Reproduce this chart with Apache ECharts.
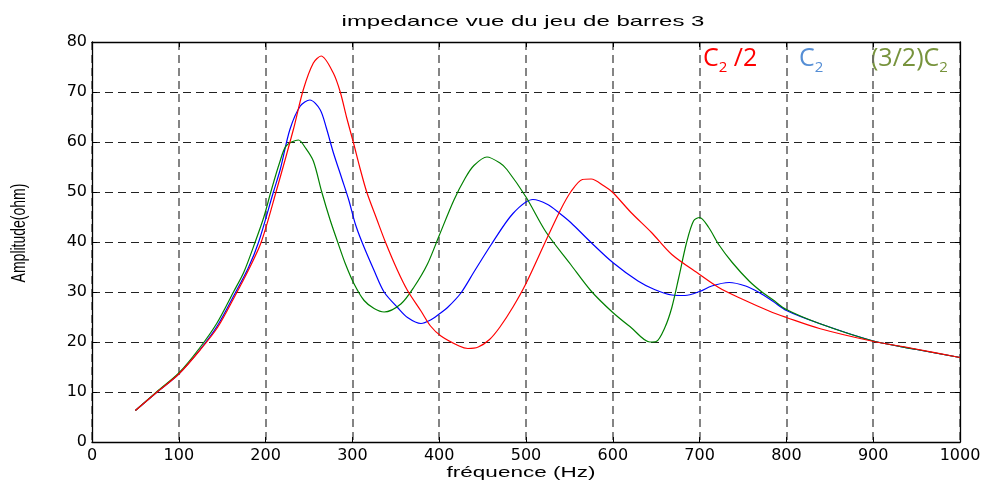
<!DOCTYPE html>
<html><head><meta charset="utf-8">
<script src="https://cdn.jsdelivr.net/npm/echarts@6/dist/echarts.min.js"></script>
<style>html,body{margin:0;padding:0;background:#fff}#c{width:996px;height:483px}</style>
</head><body><div id="c"></div>
<script>
const titleText = 'impedance vue du jeu de barres 3';
const xName = 'fréquence (Hz)';
const yName = 'Amplitude(ohm)';
const xTicks = [0,100,200,300,400,500,600,700,800,900,1000];
const yTicks = [0,10,20,30,40,50,60,70,80];

const redFreq = [50,75,100,125,145,165,180,195,212,232,243.5,255,264,278,286,293.5,301,309,316.5,328,338,352,363.5,379,390,402,423,433,445,458,470,485,500,523,540,551.5,565,575,590,600,621,644.6,668,700,722,745,784,800,838,898,946,1000];
const redAmp  = [6.3,10,13.6,18.5,23,29.3,34.3,40,50,62.5,70.5,75.8,77.2,73.8,70,64.8,60,54.6,50,44.6,40,34.3,30.3,26.2,23.2,21.2,19.2,18.7,19,20.5,23,27,31.7,40.3,46.5,50,52.5,52.6,51.2,49.9,45.9,41.9,37.5,33.5,30.9,28.9,25.9,24.9,22.7,20.2,18.7,16.9];

const blueFreq = [50,75,100,125,145,165,180,192,209,217,228,240,251,262.7,270,278,288,296,303,311,325,336.5,352,363.5,379,390,400,409.6,425,440,460,485,508,525,539,551.5,575,600,629,648,668,683,700,714,734,753,768.6,784,800,838,898,950,1000];
const blueAmp  = [6.3,10,13.6,18.6,23.4,29.8,34.8,40,50,54.6,62.5,67.2,68.4,66.5,62.8,57.9,52.6,48.3,43.8,40,34.3,30,26.9,24.9,23.7,24.4,25.6,26.9,29.8,34,39.5,45.7,48.5,47.5,45.7,43.9,39.9,35.9,32.2,30.5,29.4,29.3,30.1,31.2,31.9,31.2,29.9,28.2,26.3,23.7,20.3,18.5,16.9];

const greenFreq = [50,75,100,124,144,163,175,188,198,206,216,224,237.8,246,255,264.7,274,283,292,302,313.5,325,336.5,355.8,371,386.5,400,417,430,440,455,470,478,500,523,551.5,575,600,621,642.6,650,660,668,676,685,693,700,710.5,722,737.6,757,772.5,784,800,838,898,950,1000];
const greenAmp  = [6.3,10.1,13.8,18.8,23.8,30,34,40,45,50,55.8,59.3,60.4,58.8,56.2,50,44.6,40,35.6,31.6,28.3,26.7,26,27.6,31,35.6,41.3,48.4,52.8,55.3,57,55.8,54.5,49,42,35.5,30.2,25.9,22.9,20,20.1,22.9,26.9,32.9,39.9,44.2,44.9,42.9,39.5,35.9,32.2,29.9,28.5,26.5,23.7,20.3,18.5,16.9];

const pairs = (f, a) => f.map((v, i) => [v, a[i]]);

const chart = echarts.init(document.getElementById('c'), null, {renderer: 'canvas'});
const tickFont = {fontFamily: 'DejaVu Sans', fontSize: 16, color: '#000'};
const grid = {left: 92, right: 36, top: 42, bottom: 41};
const hLine = {show: true, lineStyle: {color: '#222', type: [8, 5], width: 1.2}};
const vLine = {show: true, lineStyle: {color: '#666', type: [8, 5], width: 1.6}};

chart.setOption({
  animation: false,
  backgroundColor: '#fff',
  grid: grid,
  xAxis: [
    {type: 'value', min: 0, max: 1000, interval: 100, position: 'bottom',
     axisLine: {show: true, onZero: false, lineStyle: {color: '#000', width: 1.3}},
     axisTick: {show: true, inside: true, length: 5, lineStyle: {color: '#000'}},
     axisLabel: Object.assign({margin: 6, formatter: v => xTicks.includes(v) ? String(v) : ''}, tickFont),
     splitLine: vLine},
    {type: 'value', min: 0, max: 1000, interval: 100, position: 'top',
     axisLine: {show: true, onZero: false, lineStyle: {color: '#000', width: 1.3}},
     axisTick: {show: true, inside: true, length: 5, lineStyle: {color: '#000'}},
     axisLabel: {show: false}, splitLine: {show: false}}
  ],
  yAxis: [
    {type: 'value', min: 0, max: 80, interval: 10, position: 'left',
     axisLine: {show: true, onZero: false, lineStyle: {color: '#000', width: 1.3}},
     axisTick: {show: true, inside: true, length: 5, lineStyle: {color: '#000'}},
     axisLabel: Object.assign({margin: 5, formatter: v => yTicks.includes(v) ? String(v) : ''}, tickFont),
     splitLine: hLine},
    {type: 'value', min: 0, max: 80, interval: 10, position: 'right',
     axisLine: {show: true, onZero: false, lineStyle: {color: '#000', width: 1.3}},
     axisTick: {show: true, inside: true, length: 5, lineStyle: {color: '#000'}},
     axisLabel: {show: false}, splitLine: {show: false}}
  ],
  series: [
    {name: 'C2', type: 'line', data: pairs(blueFreq, blueAmp), showSymbol: false, smooth: 0.3,
     lineStyle: {color: '#0000ff', width: 1.2}, itemStyle: {color: '#0000ff'}, z: 3},
    {name: '(3/2)C2', type: 'line', data: pairs(greenFreq, greenAmp), showSymbol: false, smooth: 0.3,
     lineStyle: {color: '#008000', width: 1.2}, itemStyle: {color: '#008000'}, z: 4},
    {name: 'C2/2', type: 'line', data: pairs(redFreq, redAmp), showSymbol: false, smooth: 0.3,
     lineStyle: {color: '#ff0000', width: 1.2}, itemStyle: {color: '#ff0000'}, z: 5}
  ],
  graphic: [
    {type: 'text', x: 523, y: 22, scaleX: 1.6, scaleY: 1,
     style: {text: titleText, fontFamily: 'Liberation Sans', fontSize: 15, fill: '#000', align: 'center', verticalAlign: 'middle'}},
    {type: 'text', x: 521, y: 473, scaleX: 1.5, scaleY: 1,
     style: {text: xName, fontFamily: 'Liberation Sans', fontSize: 15, fill: '#000', align: 'center', verticalAlign: 'middle'}},
    {type: 'text', x: 20, y: 233, rotation: Math.PI / 2, scaleX: 1, scaleY: 1.4,
     style: {text: yName, fontFamily: 'Liberation Sans', fontSize: 14, fill: '#000', align: 'center', verticalAlign: 'middle'}},
    {type: 'text', x: 703, y: 71,
     style: {text: '{a|C}{s|2}{a| /2}', fill: '#ff0000', verticalAlign: 'bottom', align: 'left',
       rich: {a: {fontFamily: 'Open Sans', fontSize: 25, fill: '#ff0000', lineHeight: 30, verticalAlign: 'bottom'},
              s: {fontFamily: 'Open Sans', fontSize: 15, fill: '#ff0000', lineHeight: 30, verticalAlign: 'bottom', padding: [0,0,-4,0]}}}},
    {type: 'text', x: 799, y: 71,
     style: {text: '{a|C}{s|2}', fill: '#558ed5', verticalAlign: 'bottom', align: 'left',
       rich: {a: {fontFamily: 'Open Sans', fontSize: 25, fill: '#558ed5', lineHeight: 30, verticalAlign: 'bottom'},
              s: {fontFamily: 'Open Sans', fontSize: 15, fill: '#558ed5', lineHeight: 30, verticalAlign: 'bottom', padding: [0,0,-4,0]}}}},
    {type: 'text', x: 871, y: 71,
     style: {text: '{a|(3/2)C}{s|2}', fill: '#77933c', verticalAlign: 'bottom', align: 'left',
       rich: {a: {fontFamily: 'Open Sans', fontSize: 25, fill: '#77933c', lineHeight: 30, verticalAlign: 'bottom'},
              s: {fontFamily: 'Open Sans', fontSize: 15, fill: '#77933c', lineHeight: 30, verticalAlign: 'bottom', padding: [0,0,-4,0]}}}}
  ]
});
</script></body></html>
